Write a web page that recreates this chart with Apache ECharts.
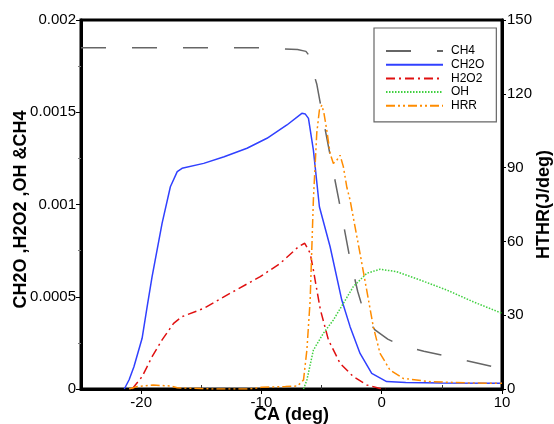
<!DOCTYPE html>
<html>
<head>
<meta charset="utf-8">
<script src="https://cdn.jsdelivr.net/npm/echarts@6/dist/echarts.min.js"></script>
<style>html,body{margin:0;padding:0;background:#fff}#c{width:554px;height:424px}</style>
</head>
<body>
<div id="c"></div>
<script>
// ---- data ----
const ch4CA  = [-25, -20, -15, -10, -7, -6.3, -5.95, -5.7, -5.39, -4.8, -4.15, -3.46, -2.71, -2.0, -1.66, -1.1, -0.56, 0.5, 1.52, 3.5, 5.81, 8, 10];
const ch4Val = [0.00185, 0.00185, 0.00185, 0.00185, 0.00184, 0.00183, 0.00180, 0.00172, 0.00165, 0.00144, 0.00122, 0.00099, 0.00073, 0.00053, 0.000455, 0.00037, 0.00032, 0.00027, 0.000238, 0.000205, 0.000172, 0.00014, 0.00011];

const ch2oCA  = [-21.4, -21.0, -20.6, -19.92, -19.5, -19.09, -18.26, -17.57, -17.0, -16.6, -14.8, -13.1, -11.2, -9.54, -7.88, -6.64, -6.35, -6.09, -5.68, -5.18, -4.29, -3.32, -2.63, -1.8, -0.83, 0.41, 2, 5, 10];
const ch2oVal = [0, 0.00005, 0.000121, 0.000275, 0.000446, 0.000609, 0.000898, 0.001096, 0.001178, 0.001196, 0.001223, 0.001259, 0.001305, 0.001359, 0.001431, 0.001494, 0.00149, 0.001467, 0.001295, 0.000988, 0.000771, 0.000482, 0.000338, 0.000193, 0.000085, 0.00004, 0.000035, 0.000033, 0.000031];

const h2o2CA  = [-20.75, -19.92, -19.09, -18.26, -17.3, -16.6, -14.8, -12.59, -10.1, -8.44, -6.92, -6.4, -5.95, -5.68, -5.54, -5.1, -4.43, -3.46, -2.36, -1.24, -0.14, 0.3];
const h2o2Val = [0, 0.000067, 0.000175, 0.000266, 0.000356, 0.000392, 0.000437, 0.000519, 0.000609, 0.000681, 0.000771, 0.00079, 0.000736, 0.000645, 0.000591, 0.00043, 0.000266, 0.000139, 0.000067, 0.000022, 0.000003, 0];

const ohCA  = [-6.5, -6.22, -5.68, -4.85, -4.02, -3.19, -2.36, -1.24, -0.14, 1.24, 3.18, 5.39, 7.6, 10];
const ohVal = [0, 0.000049, 0.000211, 0.000302, 0.000374, 0.000464, 0.000555, 0.000627, 0.000649, 0.000636, 0.000591, 0.000537, 0.000473, 0.00041];

const hrrCA  = [-21, -20.3, -19, -17.5, -17, -14, -11, -10, -8, -7, -6.5, -6.22, -5.95, -5.68, -5.4, -5.18, -4.98, -4.8, -4.56, -4.29, -4.02, -3.74, -3.46, -3.19, -2.9, -2.63, -2.22, -1.8, -1.24, -0.7, -0.14, 0.69, 1.79, 4.0, 7, 10];
const hrrVal = [0, 1, 1.6, 1.2, 0.5, 0, 0, 0.7, 1.0, 1.2, 3.7, 15.9, 36, 77, 104, 113.4, 115.4, 112, 105, 95.8, 91.7, 93, 95, 90.4, 82, 76.8, 66, 55, 40, 25.3, 14.5, 7.7, 4.3, 3, 2.5, 2.3];

const seriesNames = ['CH4', 'CH2O', 'H2O2', 'OH', 'HRR'];
const xMajorTicks = [-20, -10, 0, 10];
const xMinorTicks = [-15, -5, 5];
const leftTickLabels = ['0', '0.0005', '0.001', '0.0015', '0.002'];
const rightTickLabels = ['0', '30', '60', '90', '120', '150'];

function pairs(xs, ys) { return xs.map((x, i) => [x, ys[i]]); }

const FONT = 'Liberation Sans, Arial, sans-serif';
const chart = echarts.init(document.getElementById('c'), null, { renderer: 'canvas' });

const line = (name, xs, ys, color, type, yIdx) => ({
  name, type: 'line', data: pairs(xs, ys), yAxisIndex: yIdx, xAxisIndex: 0,
  showSymbol: false, symbol: 'none', smooth: false, animation: false,
  lineStyle: { color, width: 1.5, type }, itemStyle: { color }
});

chart.setOption({
  animation: false,
  backgroundColor: '#fff',
  grid: { left: 81, right: 52, top: 20, bottom: 35, outerBoundsMode: 'none', containLabel: false,
    show: true, borderColor: '#000', borderWidth: 3, backgroundColor: 'transparent' },
  legend: {
    orient: 'vertical', left: 374, top: 28,
    padding: [17, 12, 10, 11], itemGap: 1.7,
    itemWidth: 57, itemHeight: 12,
    borderColor: '#666', borderWidth: 1.2,
    itemStyle: { opacity: 0 },
    textStyle: { fontFamily: FONT, fontSize: 12, color: '#000', padding: [0, 0, 0, 3] },
    data: seriesNames
  },
  xAxis: [{
    type: 'value', min: -25, max: 10, interval: 5,
    name: 'CA (deg)', nameLocation: 'middle', nameGap: 17.5, nameMoveOverlap: false,
    nameTextStyle: { fontFamily: FONT, fontSize: 18, fontWeight: 'bold', color: '#000' },
    axisLine: { show: true, onZero: false, lineStyle: { color: '#000', width: 3 } },
    axisTick: { show: true, customValues: xMajorTicks, length: 5, lineStyle: { color: '#000', width: 1 } },
    axisLabel: { customValues: xMajorTicks, fontFamily: FONT, fontSize: 15, color: '#000', margin: 6,
      formatter: v => (xMajorTicks.indexOf(v) >= 0 ? String(v) : '') },
    splitLine: { show: false }
  }, {
    type: 'value', min: -25, max: 10, interval: 5, position: 'bottom', gridIndex: 0,
    axisLine: { show: false },
    axisTick: { show: true, inside: true, customValues: xMinorTicks, length: 4, lineStyle: { color: '#333', width: 1 } },
    axisLabel: { show: false }, splitLine: { show: false }
  }],
  yAxis: [{
    type: 'value', min: 0, max: 0.002, interval: 0.0005, position: 'left',
    name: 'CH2O ,H2O2 ,OH &CH4', nameLocation: 'middle', nameGap: 51, nameRotate: 90, nameMoveOverlap: false,
    nameTextStyle: { fontFamily: FONT, fontSize: 18, fontWeight: 'bold', color: '#000', padding: [0, 10, 0, 0] },
    axisLine: { show: true, onZero: false, lineStyle: { color: '#000', width: 3 } },
    axisTick: { show: true, length: 5, lineStyle: { color: '#000', width: 1 } },
    minorTick: { show: true, splitNumber: 2, length: 3, lineStyle: { color: '#777', width: 1 } },
    axisLabel: { fontFamily: FONT, fontSize: 15, color: '#000', margin: 5,
      formatter: v => leftTickLabels[Math.round(v / 0.0005)] },
    splitLine: { show: false }, minorSplitLine: { show: false }
  }, {
    type: 'value', min: 0, max: 150, interval: 30, position: 'right',
    name: 'HTHR(J/deg)', nameLocation: 'middle', nameGap: 33, nameRotate: 90, nameMoveOverlap: false,
    nameTextStyle: { fontFamily: FONT, fontSize: 18, fontWeight: 'bold', color: '#000' },
    axisLine: { show: true, onZero: false, lineStyle: { color: '#000', width: 3 } },
    axisTick: { show: true, length: 4, lineStyle: { color: '#000', width: 1 } },
    axisLabel: { fontFamily: FONT, fontSize: 15, color: '#000', margin: 5,
      formatter: v => rightTickLabels[Math.round(v / 30)] },
    splitLine: { show: false }
  }],
  series: [
    line('CH4', ch4CA, ch4Val, '#666666', [25, 26], 0),
    line('CH2O', ch2oCA, ch2oVal, '#3040ff', 'solid', 0),
    line('H2O2', h2o2CA, h2o2Val, '#e01010', [9, 4, 2, 4], 0),
    line('OH', ohCA, ohVal, '#40d040', [1.5, 1.5], 0),
    line('HRR', hrrCA, hrrVal, '#ff8c00', [9, 3, 2, 3, 2, 3], 1)
  ]
});
</script>
</body>
</html>
